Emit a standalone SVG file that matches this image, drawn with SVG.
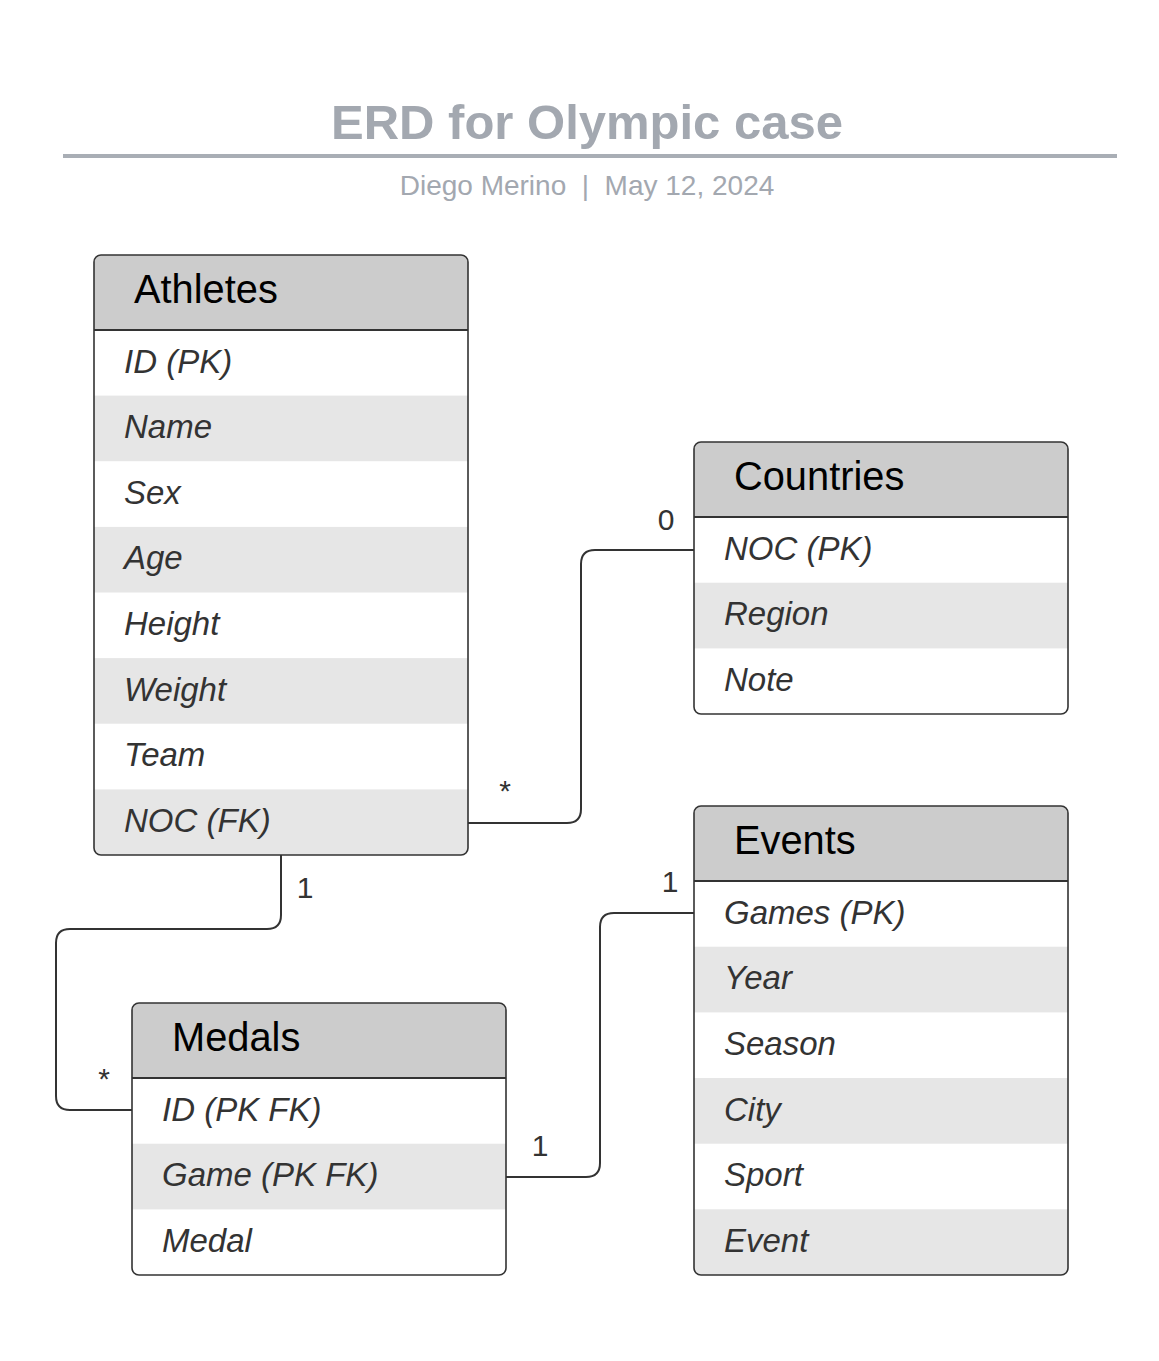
<svg xmlns="http://www.w3.org/2000/svg" width="1159" height="1361" viewBox="0 0 1159 1361">
<style>
.title{font-family:"Liberation Sans",Arial,sans-serif;font-weight:bold;font-size:49px;fill:#a3a8b0}
.sub{font-family:"Liberation Sans",Arial,sans-serif;font-size:28px;fill:#a3a8b0}
.hdr{font-family:"Liberation Sans",Arial,sans-serif;font-size:39.8px;fill:#000}
.row{font-family:"Liberation Sans",Arial,sans-serif;font-style:italic;font-size:33px;fill:#333}
.lbl{font-family:"Liberation Sans",Arial,sans-serif;font-size:30px;fill:#333;text-anchor:middle}
.box{fill:none;stroke:#333;stroke-width:1.6}
.hfill{fill:#cccccc}
.alt{fill:#e6e6e6}
.sep{stroke:#333;stroke-width:2}
.conn{fill:none;stroke:#333;stroke-width:2}
</style>
<defs>
<clipPath id="cA"><rect x="94" y="255" width="374" height="600" rx="7"/></clipPath>
<clipPath id="cC"><rect x="694" y="442" width="374" height="272" rx="7"/></clipPath>
<clipPath id="cE"><rect x="694" y="806" width="374" height="469" rx="7"/></clipPath>
<clipPath id="cM"><rect x="132" y="1003" width="374" height="272" rx="7"/></clipPath>
</defs>
<rect width="1159" height="1361" fill="#fff"/>
<g id="title">
<text class="title" x="587" y="139" text-anchor="middle">ERD for Olympic case</text>
<rect x="63" y="154" width="1054" height="4" fill="#a9aeb5"/>
<text class="sub" x="587" y="195" text-anchor="middle" xml:space="preserve">Diego Merino  |  May 12, 2024</text>
</g>
<g id="connectors">
<path class="conn" d="M468,823 H567 Q581,823 581,809 V564 Q581,550 595,550 H694"/>
<path class="conn" d="M281,855 V915 Q281,929 267,929 H70 Q56,929 56,943 V1096 Q56,1110 70,1110 H132"/>
<path class="conn" d="M506,1177 H586 Q600,1177 600,1163 V927 Q600,913 614,913 H694"/>
<text class="lbl" x="505" y="801">*</text>
<text class="lbl" x="666" y="530">0</text>
<text class="lbl" x="305" y="898">1</text>
<text class="lbl" x="104" y="1089">*</text>
<text class="lbl" x="540" y="1156">1</text>
<text class="lbl" x="670" y="892">1</text>
</g>
<g id="athletes">
<g clip-path="url(#cA)">
<rect x="94" y="255" width="374" height="600" fill="#fff"/>
<rect class="hfill" x="94" y="255" width="374" height="75"/>
<rect class="alt" x="94" y="395.6" width="374" height="65.6"/>
<rect class="alt" x="94" y="526.9" width="374" height="65.6"/>
<rect class="alt" x="94" y="658.1" width="374" height="65.6"/>
<rect class="alt" x="94" y="789.4" width="374" height="65.6"/>
</g>
<line class="sep" x1="94" y1="330" x2="468" y2="330"/>
<rect class="box" x="94" y="255" width="374" height="600" rx="7"/>
<text class="hdr" x="134" y="303">Athletes</text>
<text class="row" x="124" y="373">ID (PK)</text>
<text class="row" x="124" y="438">Name</text>
<text class="row" x="124" y="504">Sex</text>
<text class="row" x="124" y="569">Age</text>
<text class="row" x="124" y="635">Height</text>
<text class="row" x="124" y="701">Weight</text>
<text class="row" x="124" y="766">Team</text>
<text class="row" x="124" y="832">NOC (FK)</text>
</g>
<g id="countries">
<g clip-path="url(#cC)">
<rect x="694" y="442" width="374" height="272" fill="#fff"/>
<rect class="hfill" x="694" y="442" width="374" height="75"/>
<rect class="alt" x="694" y="582.7" width="374" height="65.7"/>
</g>
<line class="sep" x1="694" y1="517" x2="1068" y2="517"/>
<rect class="box" x="694" y="442" width="374" height="272" rx="7"/>
<text class="hdr" x="734" y="490">Countries</text>
<text class="row" x="724" y="560">NOC (PK)</text>
<text class="row" x="724" y="625">Region</text>
<text class="row" x="724" y="691">Note</text>
</g>
<g id="events">
<g clip-path="url(#cE)">
<rect x="694" y="806" width="374" height="469" fill="#fff"/>
<rect class="hfill" x="694" y="806" width="374" height="75"/>
<rect class="alt" x="694" y="946.7" width="374" height="65.7"/>
<rect class="alt" x="694" y="1078" width="374" height="65.7"/>
<rect class="alt" x="694" y="1209.3" width="374" height="65.7"/>
</g>
<line class="sep" x1="694" y1="881" x2="1068" y2="881"/>
<rect class="box" x="694" y="806" width="374" height="469" rx="7"/>
<text class="hdr" x="734" y="854">Events</text>
<text class="row" x="724" y="924">Games (PK)</text>
<text class="row" x="724" y="989">Year</text>
<text class="row" x="724" y="1055">Season</text>
<text class="row" x="724" y="1121">City</text>
<text class="row" x="724" y="1186">Sport</text>
<text class="row" x="724" y="1252">Event</text>
</g>
<g id="medals">
<g clip-path="url(#cM)">
<rect x="132" y="1003" width="374" height="272" fill="#fff"/>
<rect class="hfill" x="132" y="1003" width="374" height="75"/>
<rect class="alt" x="132" y="1143.7" width="374" height="65.7"/>
</g>
<line class="sep" x1="132" y1="1078" x2="506" y2="1078"/>
<rect class="box" x="132" y="1003" width="374" height="272" rx="7"/>
<text class="hdr" x="172" y="1051">Medals</text>
<text class="row" x="162" y="1121">ID (PK FK)</text>
<text class="row" x="162" y="1186">Game (PK FK)</text>
<text class="row" x="162" y="1252">Medal</text>
</g>
</svg>
